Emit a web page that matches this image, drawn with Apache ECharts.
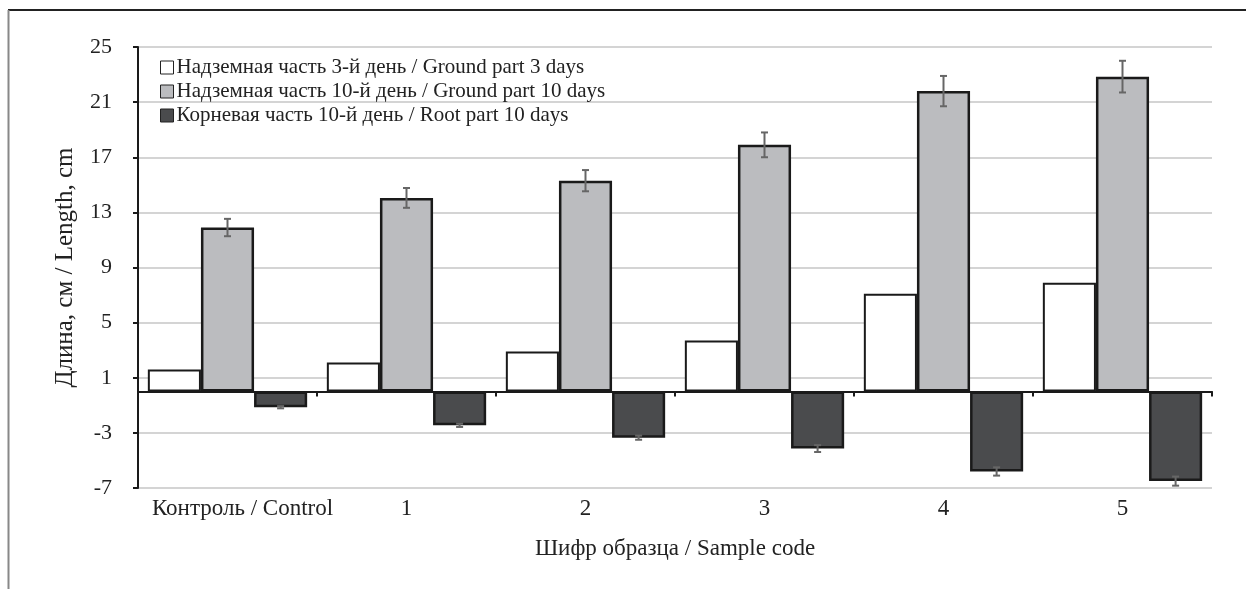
<!DOCTYPE html>
<html>
<head>
<meta charset="utf-8">
<script src="https://cdn.jsdelivr.net/npm/echarts@6/dist/echarts.min.js"></script>
<style>
html,body{margin:0;padding:0;background:#fff;}
#chart{width:1246px;height:589px;}
</style>
</head>
<body>
<div id="chart"></div>
<script>
var categories = ['Контроль / Control', '1', '2', '3', '4', '5'];
var seriesNames = [
  'Надземная часть 3-й день / Ground part 3 days',
  'Надземная часть 10-й день / Ground part 10 days',
  'Корневая часть 10-й день / Root part 10 days'
];
var ground3 = [1.6, 2.1, 2.9, 3.7, 7.1, 7.9];
var ground10 = [11.9, 14.05, 15.3, 17.9, 21.8, 22.85];
var ground10Err = [0.63, 0.72, 0.77, 0.9, 1.1, 1.15];
var root10 = [-1.14, -2.45, -3.35, -4.14, -5.8, -6.5];
var root10Err = [0.08, 0.12, 0.15, 0.25, 0.3, 0.33];
var yTicks = { min: -7, max: 25, interval: 4 };

var FONT = '"Liberation Serif", "DejaVu Serif", serif';
var GAP = 0.11;

function errData(vals, errs, slot) {
  return vals.map(function (v, i) { return [i, v, errs[i], slot]; });
}

function renderErr(params, api) {
  var idx = api.value(0);
  var v = api.value(1);
  var e = api.value(2);
  var slot = api.value(3);
  var catW = api.size([1, 0])[0];
  var bw = catW * (1 - GAP) / 3;
  var c = api.coord([idx, v]);
  var x = c[0] + slot * bw;
  var top = api.coord([idx, v + e])[1];
  var bot = api.coord([idx, v - e])[1];
  var cap = 3.5;
  var st = { stroke: '#666', lineWidth: 2 };
  return {
    type: 'group',
    children: [
      { type: 'line', shape: { x1: x, y1: top, x2: x, y2: bot }, style: st },
      { type: 'line', shape: { x1: x - cap, y1: top, x2: x + cap, y2: top }, style: st },
      { type: 'line', shape: { x1: x - cap, y1: bot, x2: x + cap, y2: bot }, style: st }
    ]
  };
}

var chart = echarts.init(document.getElementById('chart'));
chart.setOption({
  animation: false,
  backgroundColor: '#fff',
  textStyle: { fontFamily: FONT },
  graphic: [
    { type: 'line', shape: { x1: 8, y1: 10, x2: 1246, y2: 10 }, style: { stroke: '#222', lineWidth: 2 } },
    { type: 'line', shape: { x1: 8.5, y1: 10, x2: 8.5, y2: 589 }, style: { stroke: '#888', lineWidth: 2 } }
  ],
  grid: { left: 138, right: 34, top: 47, bottom: 101, containLabel: false },
  legend: {
    orient: 'vertical',
    left: 160,
    top: 57,
    padding: 0,
    itemWidth: 13,
    itemHeight: 13,
    itemGap: 3,
    icon: 'rect',
    data: seriesNames,
    itemStyle: { borderWidth: 1, borderColor: '#222' },
    textStyle: { fontFamily: FONT, fontSize: 21, color: '#222', padding: [0, 0, 0, -2] }
  },
  xAxis: [
    {
      type: 'category',
      data: categories,
      position: 'bottom',
      axisLine: { onZero: true, lineStyle: { color: '#1a1a1a', width: 2 } },
      axisTick: { show: true, length: 5, inside: false, lineStyle: { color: '#1a1a1a', width: 2 } },
      axisLabel: { show: false },
      splitLine: { show: false }
    },
    {
      type: 'category',
      data: categories,
      position: 'bottom',
      axisLine: { show: false, onZero: false },
      axisTick: { show: false },
      axisLabel: {
        interval: 0,
        margin: 9,
        fontFamily: FONT,
        fontSize: 23,
        color: '#222',
        formatter: function (v, i) { return i === 0 ? '{a|' + v + '}' : v; },
        rich: { a: { fontFamily: FONT, fontSize: 23, color: '#222', padding: [0, 0, 0, 30] } }
      },
      name: 'Шифр образца / Sample code',
      nameLocation: 'middle',
      nameGap: 49,
      nameTextStyle: { fontFamily: FONT, fontSize: 23, color: '#222' }
    }
  ],
  yAxis: {
    type: 'value',
    min: yTicks.min,
    max: yTicks.max,
    interval: yTicks.interval,
    axisLine: { show: true, lineStyle: { color: '#1a1a1a', width: 2 } },
    axisTick: { show: true, length: 5, lineStyle: { color: '#1a1a1a', width: 2 } },
    axisLabel: { margin: 26, fontFamily: FONT, fontSize: 22, color: '#222' },
    splitLine: { show: true, lineStyle: { color: '#d4d4d4', width: 2 } },
    name: 'Длина, см / Length, cm',
    nameLocation: 'middle',
    nameGap: 60,
    nameTextStyle: { fontFamily: FONT, fontSize: 25, color: '#222' }
  },
  series: [
    {
      name: seriesNames[0], type: 'bar', data: ground3,
      barCategoryGap: (GAP * 100) + '%', barGap: '0%',
      itemStyle: { color: '#ffffff', borderColor: '#1a1a1a', borderWidth: 2 }
    },
    {
      name: seriesNames[1], type: 'bar', data: ground10,
      barCategoryGap: (GAP * 100) + '%', barGap: '0%',
      itemStyle: { color: '#bbbcbf', borderColor: '#1a1a1a', borderWidth: 2.5 }
    },
    {
      name: seriesNames[2], type: 'bar', data: root10,
      barCategoryGap: (GAP * 100) + '%', barGap: '0%',
      itemStyle: { color: '#4a4b4d', borderColor: '#1a1a1a', borderWidth: 2.5 }
    },
    {
      type: 'custom', renderItem: renderErr, data: errData(ground10, ground10Err, 0),
      encode: { x: 0, y: 1 }, z: 5, silent: true
    },
    {
      type: 'custom', renderItem: renderErr, data: errData(root10, root10Err, 1),
      encode: { x: 0, y: 1 }, z: 5, silent: true
    }
  ]
});
</script>
</body>
</html>
